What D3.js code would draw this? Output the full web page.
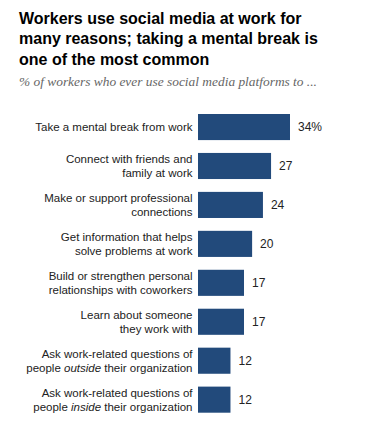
<!DOCTYPE html>
<html>
<head>
<meta charset="utf-8">
<script src="https://cdn.jsdelivr.net/npm/d3@7"></script>
<style>
  body { margin: 0; background: #fff; }
  svg { display: block; }
</style>
</head>
<body>
<svg id="chart" width="370" height="438"></svg>
<script>
// Chart data
const reasons = [
    ["Take a mental break from work"],
    ["Connect with friends and", "family at work"],
    ["Make or support professional", "connections"],
    ["Get information that helps", "solve problems at work"],
    ["Build or strengthen personal", "relationships with coworkers"],
    ["Learn about someone", "they work with"],
    ["Ask work-related questions of", "people |outside| their organization"],
    ["Ask work-related questions of", "people |inside| their organization"]
];
const shares = [34, 27, 24, 20, 17, 17, 12, 12];
const titleLines = [
    "Workers use social media at work for",
    "many reasons; taking a mental break is",
    "one of the most common"
];
const subtitle = "% of workers who ever use social media platforms to ...";

const svg = d3.select('#chart');

const barColor = '#224a7b';
const sansFont = '"Liberation Sans", Arial, sans-serif';

// title
svg.append('g')
    .selectAll('text')
    .data(titleLines)
    .enter()
    .append('text')
    .attr('x', 19)
    .attr('y', (d, i) => 23.5 + i * 20.5)
    .attr('font-family', sansFont)
    .attr('font-weight', 'bold')
    .attr('font-size', 16)
    .attr('fill', '#000')
    .text(d => d);

svg.append('text')
    .attr('x', 19)
    .attr('y', 86)
    .attr('font-family', '"Liberation Serif", Georgia, serif')
    .attr('font-style', 'italic')
    .attr('font-size', 13.4)
    .attr('fill', '#666')
    .text(subtitle);

const idx = d3.range(shares.length);

const x = d3.scaleLinear()
    .domain([0, 34])
    .range([198, 290]);

const y = d3.scaleBand()
    .domain(idx)
    .range([114, 412.7])
    .paddingInner(0.33)
    .paddingOuter(0);

svg.append('g')
    .selectAll('rect')
    .data(idx)
    .enter()
    .append('rect')
    .attr('x', x(0))
    .attr('y', i => y(i))
    .attr('width', i => x(shares[i]) - x(0))
    .attr('height', y.bandwidth())
    .attr('fill', barColor);

// value labels, first one gets the % sign
svg.append('g')
    .selectAll('text')
    .data(idx)
    .enter()
    .append('text')
    .attr('x', i => x(shares[i]) + 8)
    .attr('y', i => y(i) + y.bandwidth() / 2)
    .attr('dy', '0.35em')
    .attr('font-family', sansFont)
    .attr('font-size', 12)
    .attr('fill', '#222')
    .text(i => i === 0 ? shares[i] + '%' : shares[i]);

// category labels (words between pipes are italic)
const lineGap = 13.7;
const labelG = svg.append('g')
    .attr('font-family', sansFont)
    .attr('font-size', 11.5)
    .attr('fill', '#222')
    .attr('text-anchor', 'end');

idx.forEach(i => {
    const lines = reasons[i];
    const cy = y(i) + y.bandwidth() / 2;
    lines.forEach((line, j) => {
        const t = labelG.append('text')
            .attr('x', 192.5)
            .attr('y', cy + (j - (lines.length - 1) / 2) * lineGap)
            .attr('dy', '0.35em');
        line.split('|').forEach((part, k) => {
            t.append('tspan')
                .attr('font-style', k % 2 ? 'italic' : 'normal')
                .text(part);
        });
    });
});
</script>
</body>
</html>
